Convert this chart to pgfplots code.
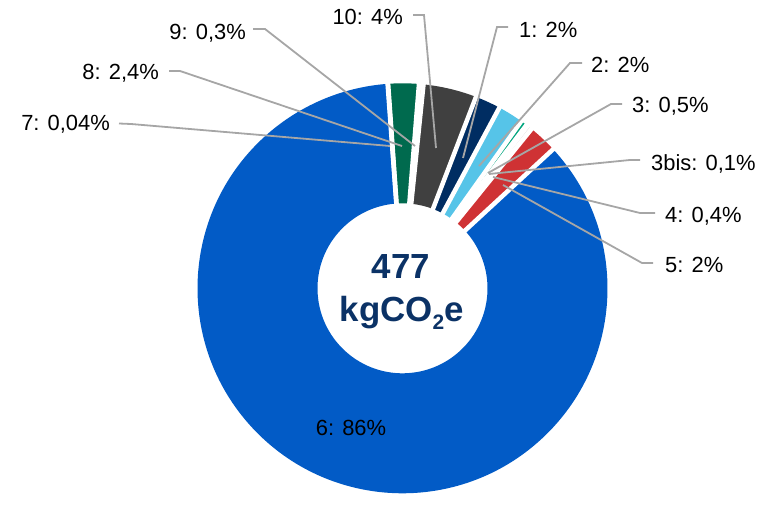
\documentclass[border=0pt]{standalone}
\usepackage{pgfplots}
\pgfplotsset{compat=1.18}
\usepackage{pgfplotstable}
\usepackage{fontspec}
\setmainfont{Liberation Sans}
\definecolor{c1}{HTML}{002D62}
\definecolor{c2}{HTML}{56C4E8}
\definecolor{c3}{HTML}{00A57E}
\definecolor{c3b}{HTML}{F2F2F2}
\definecolor{c4}{HTML}{E3E3E3}
\definecolor{c5}{HTML}{CF3234}
\definecolor{c6}{HTML}{025BC6}
\definecolor{c7}{HTML}{D9E6F2}
\definecolor{c8}{HTML}{006A4E}
\definecolor{c9}{HTML}{E6C89B}
\definecolor{c10}{HTML}{404040}
\definecolor{leader}{HTML}{A6A6A6}
\definecolor{navytxt}{HTML}{0B3266}
\tikzset{lab/.style={inner sep=0pt,font=\fontsize{22}{26}\selectfont,text=black},
  ld/.style={leader,line width=1.8bp}}
\pgfplotstableread{
id value col
1 2.0 c1
2 2.0 c2
3 0.5 c3
3bis 0.1 c3b
4 0.4 c4
5 2.3 c5
6 85.7 c6
7 0.04 c7
8 2.4 c8
9 0.35 c9
10 4.2 c10
}\slices
\begin{document}
\begin{tikzpicture}
\begin{axis}[x=1bp,y=1bp,xmin=0,xmax=766,ymin=0,ymax=496,hide axis,clip=false]
\pgfplotsextra{%
  \path (axis cs:0,0) rectangle (axis cs:766,496);
  \coordinate (C) at (axis cs:402.5,207.7);
  \pgfplotstablegetrowsof{\slices}%
  \pgfmathtruncatemacro\nlast{\pgfplotsretval-1}%
  \def\tot{0}%
  \pgfplotsforeachungrouped \i in {0,...,\nlast}{%
    \pgfplotstablegetelem{\i}{value}\of\slices
    \pgfmathsetmacro\tot{\tot+\pgfplotsretval}%
  }%
  \def\ang{69}%
  \pgfplotsforeachungrouped \i in {0,...,\nlast}{%
    \pgfplotstablegetelem{\i}{value}\of\slices \let\sv\pgfplotsretval
    \pgfplotstablegetelem{\i}{col}\of\slices \let\slicecol\pgfplotsretval
    \pgfmathsetmacro\angb{\ang-\sv/\tot*360}%
    \fill[fill=\slicecol] ([shift={(\ang:205bp)}]C) arc[start angle=\ang,end angle=\angb,radius=205bp]
      -- ([shift={(\angb:85bp)}]C) arc[start angle=\angb,end angle=\ang,radius=85bp] -- cycle;
    \let\ang\angb
  }%
  \def\ang{69}%
  \pgfplotsforeachungrouped \i in {0,...,\nlast}{%
    \pgfplotstablegetelem{\i}{value}\of\slices \let\sv\pgfplotsretval
    \draw[white,line width=4.5bp] ([shift={(\ang:80bp)}]C) -- ([shift={(\ang:211bp)}]C);
    \pgfmathsetmacro\angb{\ang-\sv/\tot*360}%
    \let\ang\angb
  }%
}
% leader lines
\draw[ld] (axis cs:413,481) -- (axis cs:424,481) -- (axis cs:436,348);
\draw[ld] (axis cs:253,467) -- (axis cs:265,467) -- (axis cs:415,350);
\draw[ld] (axis cs:169,425) -- (axis cs:180,425) -- (axis cs:402,350);
\draw[ld] (axis cs:119,372.5) -- (axis cs:131,372) -- (axis cs:390,350);
\draw[ld] (axis cs:508,469) -- (axis cs:497,469) -- (axis cs:463,338);
\draw[ld] (axis cs:582,433) -- (axis cs:570,433) -- (axis cs:479,330);
\draw[ld] (axis cs:622,392) -- (axis cs:611,392) -- (axis cs:488,323);
\draw[ld] (axis cs:640,336) -- (axis cs:630,336) -- (axis cs:489,322);
\draw[ld] (axis cs:655,283) -- (axis cs:640,283) -- (axis cs:493,319);
\draw[ld] (axis cs:653,233) -- (axis cs:642,233) -- (axis cs:503,311);
% labels
\node[lab,anchor=base east] at (axis cs:403,471) {10: 4\%};
\node[lab,anchor=base east] at (axis cs:246,456.5) {9: 0,3\%};
\node[lab,anchor=base east] at (axis cs:159,416) {8: 2,4\%};
\node[lab,anchor=base east] at (axis cs:110,365) {7: 0,04\%};
\node[lab,anchor=base west] at (axis cs:519,458.7) {1: 2\%};
\node[lab,anchor=base west] at (axis cs:591,423.5) {2: 2\%};
\node[lab,anchor=base west] at (axis cs:632,383) {3: 0,5\%};
\node[lab,anchor=base west] at (axis cs:651,325.5) {3bis: 0,1\%};
\node[lab,anchor=base west] at (axis cs:665,273) {4: 0,4\%};
\node[lab,anchor=base west] at (axis cs:665,223.5) {5: 2\%};
\node[lab,anchor=base] at (axis cs:351,61) {6: 86\%};
\node[inner sep=0pt,anchor=base,text=navytxt,font=\fontsize{35}{40}\selectfont\bfseries] at (axis cs:401,217.7) {477};
\node[inner sep=0pt,anchor=base,text=navytxt,font=\fontsize{35}{40}\selectfont\bfseries] at (axis cs:401.7,174.3) {kgCO\raisebox{-8.3bp}{\fontsize{21}{21}\selectfont 2}e};
\end{axis}
\end{tikzpicture}
\end{document}
